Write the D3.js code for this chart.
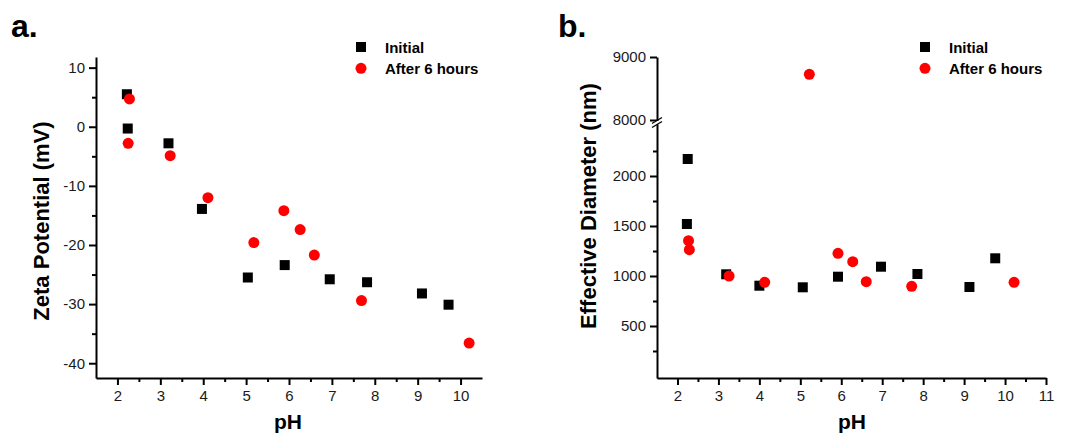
<!DOCTYPE html>
<html>
<head>
<meta charset="utf-8">
<script src="https://cdn.jsdelivr.net/npm/d3@7"></script>
<style>
  html, body { margin: 0; padding: 0; background: #fff; }
  svg { display: block; font-family: "Liberation Sans", Arial, sans-serif; }
</style>
</head>
<body>
<svg id="chart" width="1065" height="433"></svg>
<script>
// ---- Panel a: zeta potential vs pH ----
const phInitialA = [2.22, 2.24, 3.19, 3.97, 5.04, 5.90, 6.95, 7.82, 9.10, 9.72];
const zetaInitial = [5.5, -0.3, -2.8, -13.9, -25.5, -23.4, -25.8, -26.3, -28.2, -30.1];
const phAfterA = [2.28, 2.25, 3.23, 4.11, 5.18, 5.88, 6.26, 6.59, 7.69, 10.20];
const zetaAfter = [4.7, -2.8, -4.9, -12.0, -19.6, -14.2, -17.4, -21.7, -29.4, -36.6];

// ---- Panel b: effective diameter vs pH ----
const phInitialB = [2.25, 2.23, 3.19, 4.00, 5.06, 5.92, 6.97, 7.86, 9.13, 9.76];
const diamInitial = [2170, 1520, 1017, 903, 887, 993, 1093, 1020, 890, 1177];
const phAfterB = [5.22, 2.27, 2.29, 3.26, 4.13, 5.92, 6.28, 6.61, 7.72, 10.22];
const diamAfter = [8725, 1353, 1263, 1000, 937, 1227, 1143, 943, 897, 937];

// tick labels
const pHTicksA = [2, 3, 4, 5, 6, 7, 8, 9, 10];
const pHMinorA = [2.5, 3.5, 4.5, 5.5, 6.5, 7.5, 8.5, 9.5];
const zetaTicks = [10, 0, -10, -20, -30, -40];
const zetaMinor = [5, -5, -15, -25, -35];
const pHTicksB = [2, 3, 4, 5, 6, 7, 8, 9, 10, 11];
const pHMinorB = [2.5, 3.5, 4.5, 5.5, 6.5, 7.5, 8.5, 9.5, 10.5];
const diamTicksLow = [500, 1000, 1500, 2000];
const diamMinorLow = [250, 750, 1250, 1750, 2250];
const diamTicksHigh = [8000, 9000];

const seriesNames = ["Initial", "After 6 hours"];
const RED = "#ff0000";
const plain = d => String(d);   // plain integers, ASCII minus, no grouping

const svg = d3.select("#chart");

function styleAxis(g) {
  g.select(".domain").attr("stroke", "#000").attr("stroke-width", 2);
  g.selectAll(".tick line").attr("stroke", "#000").attr("stroke-width", 2);
  g.selectAll(".tick text").attr("font-size", 15).attr("fill", "#1a1a1a");
}

function minorAxis(g, axisFn, scale, values, size) {
  const a = axisFn(scale).tickValues(values).tickSize(size).tickFormat("");
  g.call(a);
  g.select(".domain").remove();
  g.selectAll(".tick line").attr("stroke", "#000").attr("stroke-width", 2);
}

function drawPoints(g, x, y, xs, ys, shape) {
  const data = xs.map((v, i) => [v, ys[i]]);
  if (shape === "square") {
    g.selectAll("rect.pt").data(data).join("rect").attr("class", "pt")
      .attr("x", d => x(d[0]) - 5).attr("y", d => y(d[1]) - 5)
      .attr("width", 10).attr("height", 10).attr("fill", "#000");
  } else {
    g.selectAll("circle.pt").data(data).join("circle").attr("class", "pt")
      .attr("cx", d => x(d[0])).attr("cy", d => y(d[1]))
      .attr("r", 5.5).attr("fill", RED);
  }
}

function legend(g, lx, ly) {
  g.append("rect").attr("x", lx - 5).attr("y", ly - 5).attr("width", 10).attr("height", 10).attr("fill", "#000");
  g.append("circle").attr("cx", lx).attr("cy", ly + 21.3).attr("r", 5.5).attr("fill", RED);
  g.append("text").attr("x", lx + 24).attr("y", ly + 5.5)
    .attr("font-size", 15).attr("font-weight", "bold").text(seriesNames[0]);
  g.append("text").attr("x", lx + 24).attr("y", ly + 26.8)
    .attr("font-size", 15).attr("font-weight", "bold").text(seriesNames[1]);
}

// ================= Panel a =================
{
  const g = svg.append("g");
  const x = d3.scaleLinear().domain([1.5, 10.5]).range([96, 482]);
  const y = d3.scaleLinear().domain([-42.5, 11.8]).range([378, 57]);

  g.append("g").attr("transform", "translate(0,378)")
    .call(d3.axisBottom(x).tickValues(pHTicksA).tickFormat(plain).tickSize(7).tickSizeOuter(0).tickPadding(5))
    .call(styleAxis);
  g.append("g").attr("transform", "translate(0,378)")
    .call(s => minorAxis(s, d3.axisBottom, x, pHMinorA, 4));
  g.append("g").attr("transform", "translate(96,0)")
    .call(d3.axisLeft(y).tickValues(zetaTicks).tickFormat(plain).tickSize(7).tickSizeOuter(0).tickPadding(4))
    .call(styleAxis);
  g.append("g").attr("transform", "translate(96,0)")
    .call(s => minorAxis(s, d3.axisLeft, y, zetaMinor, 4));

  drawPoints(g, x, y, phInitialA, zetaInitial, "square");
  drawPoints(g, x, y, phAfterA, zetaAfter, "circle");

  legend(g, 361, 47);

  g.append("text").attr("x", 11).attr("y", 37).attr("font-size", 32).attr("font-weight", "bold").text("a.");
  g.append("text").attr("x", 288).attr("y", 429).attr("text-anchor", "middle")
    .attr("font-size", 21).attr("font-weight", "bold").text("pH");
  g.append("text").attr("transform", "translate(49,221) rotate(-90)").attr("text-anchor", "middle")
    .attr("font-size", 22).attr("font-weight", "bold").text("Zeta Potential (mV)");
}

// ================= Panel b =================
{
  const g = svg.append("g");
  const x = d3.scaleLinear().domain([1.5, 11]).range([657, 1046]);
  const yLow = d3.scaleLinear().domain([-20, 2520]).range([378, 124]);
  const yHigh = d3.scaleLinear().domain([7984, 9000]).range([121, 57]);

  g.append("g").attr("transform", "translate(0,378)")
    .call(d3.axisBottom(x).tickValues(pHTicksB).tickFormat(plain).tickSize(7).tickSizeOuter(0).tickPadding(5))
    .call(styleAxis);
  g.append("g").attr("transform", "translate(0,378)")
    .call(s => minorAxis(s, d3.axisBottom, x, pHMinorB, 4));

  g.append("g").attr("transform", "translate(657,0)")
    .call(d3.axisLeft(yLow).tickValues(diamTicksLow).tickFormat(plain).tickSize(7).tickSizeOuter(0).tickPadding(4))
    .call(styleAxis);
  g.append("g").attr("transform", "translate(657,0)")
    .call(s => minorAxis(s, d3.axisLeft, yLow, diamMinorLow, 4));
  g.append("g").attr("transform", "translate(657,0)")
    .call(d3.axisLeft(yHigh).tickValues(diamTicksHigh).tickFormat(plain).tickSize(7).tickSizeOuter(0).tickPadding(4))
    .call(styleAxis);

  // axis break marks
  const bx = 657, by = 122.5;
  g.append("rect").attr("x", bx - 3).attr("y", by - 1.5).attr("width", 6).attr("height", 3).attr("fill", "#fff");
  [-2, 2].forEach(o => {
    g.append("line").attr("x1", bx - 5).attr("y1", by + o + 3).attr("x2", bx + 5).attr("y2", by + o - 3)
      .attr("stroke", "#000").attr("stroke-width", 1.3);
  });

  const yB = v => (v > 5000 ? yHigh(v) : yLow(v));
  drawPoints(g, x, yB, phInitialB, diamInitial, "square");
  drawPoints(g, x, yB, phAfterB, diamAfter, "circle");

  legend(g, 925, 47);

  g.append("text").attr("x", 558).attr("y", 37).attr("font-size", 32).attr("font-weight", "bold").text("b.");
  g.append("text").attr("x", 852).attr("y", 429).attr("text-anchor", "middle")
    .attr("font-size", 21).attr("font-weight", "bold").text("pH");
  g.append("text").attr("transform", "translate(596,206) rotate(-90)").attr("text-anchor", "middle")
    .attr("font-size", 22).attr("font-weight", "bold").text("Effective Diameter (nm)");
}
</script>
</body>
</html>
